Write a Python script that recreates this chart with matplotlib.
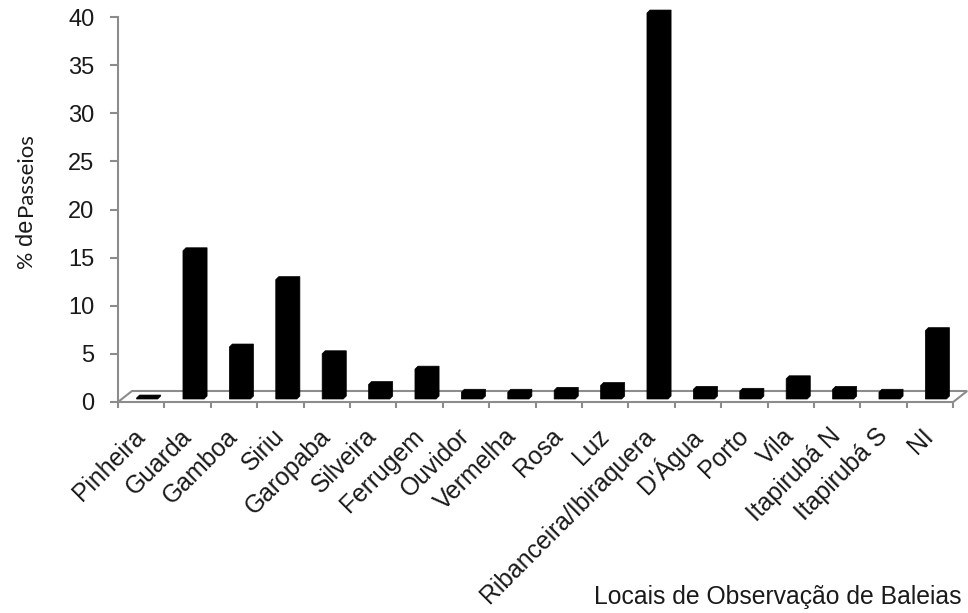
import matplotlib
matplotlib.use("Agg")
import matplotlib.pyplot as plt
from matplotlib.patches import Polygon
import numpy as np

plt.rcParams['font.family'] = ['Liberation Sans', 'DejaVu Sans']

locais = ["Pinheira", "Guarda", "Gamboa", "Siriu", "Garopaba", "Silveira",
          "Ferrugem", "Ouvidor", "Vermelha", "Rosa", "Luz",
          "Ribanceira/Ibiraquera", "D'Água", "Porto", "Vila",
          "Itapirubá N", "Itapirubá S", "NI"]
passeios = [0.1, 15.4, 5.4, 12.4, 4.7, 1.5, 3.1, 0.7, 0.7, 0.9, 1.4,
            40.1, 1.0, 0.8, 2.1, 1.0, 0.7, 7.1]
yticks = list(range(0, 41, 5))

W, H = 968, 613
cat_px = 46.4      # width of one category in pixels
unit_px = 9.625    # pixels per percent
gray = '#8c8c8c'
txt = '#1a1a1a'

fig = plt.figure(figsize=(W / 100, H / 100), dpi=100)
ax = fig.add_axes([118 / W, (H - 402) / H, 850 / W, 400 / H])
ax.set_xlim(-0.5, -0.5 + 850 / cat_px)
ax.set_ylim(0, 400 / unit_px)

for s in ['top', 'right', 'bottom']:
    ax.spines[s].set_visible(False)
ax.spines['left'].set_bounds(0, 40)
ax.spines['left'].set_color(gray)
ax.spines['left'].set_linewidth(1.5)

ax.set_yticks(yticks)
ax.tick_params(axis='y', direction='out', length=6, width=1.5, color=gray,
               pad=11, labelsize=17, labelcolor=txt)

# floor of the 3d plot
n = len(locais)
dx, dy = 14 / cat_px, 11 / unit_px
floor = Polygon([(-0.5, 0), (n - 0.5, 0), (n - 0.5 + dx, dy), (-0.5 + dx, dy)],
                closed=True, fill=False, edgecolor=gray, lw=1.5, clip_on=False)
ax.add_patch(floor)

# bars with a small depth bevel
base = 3 / unit_px
bev_x, bev_y = 3 / cat_px, 3 / unit_px
for i, v in enumerate(passeios):
    x0, x1 = i - 0.10, i + 0.42
    pts = [(x0, base), (x1 - bev_x, base), (x1, base + bev_y),
           (x1, base + v + bev_y), (x0 + bev_x, base + v + bev_y),
           (x0, base + v)]
    ax.add_patch(Polygon(pts, closed=True, facecolor='black',
                         edgecolor='black', lw=0.5, zorder=3, clip_on=False))

ax.set_xticks(np.arange(-0.5, n, 1), minor=True)
ax.set_xticks(range(n))
ax.set_xticklabels(locais, rotation=45, ha='right', va='center',
                   rotation_mode='anchor', fontsize=17.8, color=txt)
ax.tick_params(axis='x', which='major', length=0, pad=22)
ax.tick_params(axis='x', which='minor', direction='out', length=4.5,
               width=1.5, color=gray)

fig.text(962 / W, (H - 604) / H, "Locais de Observação de Baleias",
         ha='right', va='baseline', fontsize=17.8, color=txt)

# y label mixes two fonts
ylab_x = 32 / W
fig.text(ylab_x, (H - 268) / H, "%", rotation=90, rotation_mode='anchor',
         ha='left', va='baseline', fontsize=15.5, family='Lato', color=txt)
fig.text(ylab_x, (H - 245) / H, "de", rotation=90, rotation_mode='anchor',
         ha='left', va='baseline', fontsize=17, color=txt)
fig.text(ylab_x, (H - 216) / H, "Passeios", rotation=90,
         rotation_mode='anchor', ha='left', va='baseline', fontsize=16,
         family='Lato', color=txt)

fig.savefig("out.png", dpi=100)
